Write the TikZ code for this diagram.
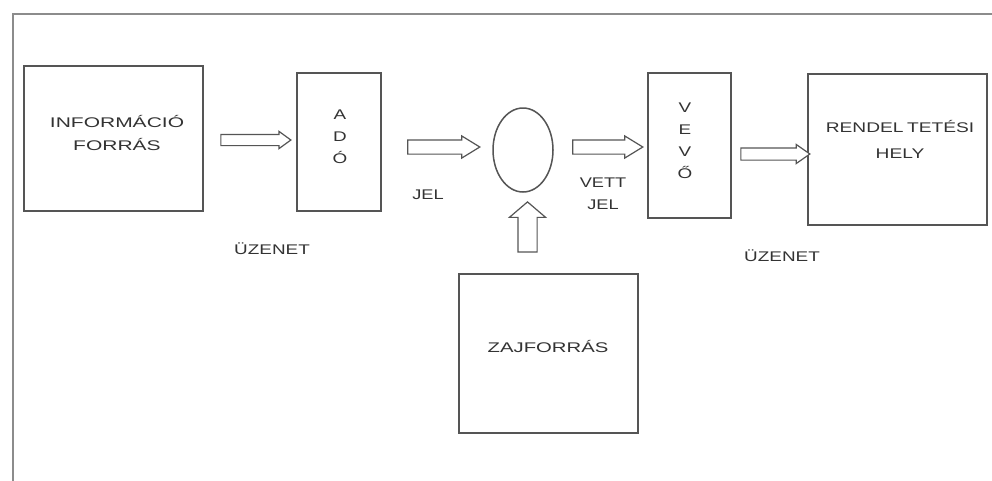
\documentclass[tikz,border=0pt]{standalone}
\usepackage{fontspec}
\setmainfont{Liberation Sans}
\usepackage{graphicx}
\usetikzlibrary{shapes.geometric,shapes.arrows}
\definecolor{boxc}{HTML}{555555}
\definecolor{framec}{HTML}{8C8C8C}
\definecolor{txtc}{HTML}{333333}
\newcommand{\wt}[3][23]{\scalebox{#2}[1]{\fontsize{14}{#1}\selectfont\begin{tabular}{@{}c@{}}#3\end{tabular}}}
\begin{document}
\begin{tikzpicture}[x=1pt,y=-1pt,
  box/.style={draw=boxc,line width=1.5pt,inner sep=0pt,rectangle},
  lbl/.style={text=txtc,inner sep=0pt},
  harrow/.style={single arrow,draw=boxc,line width=1.2pt,fill=white,single arrow head indent=0pt}]
\useasboundingbox (0,0) rectangle (992,480);
\fill[white] (0,0) rectangle (992,480);
\draw[framec,line width=2.5pt] (13,481) -- (13,14) -- (993,14);
% boxes
\node[box,minimum width=179pt,minimum height=145pt] (info) at (113.5,138.5) {};
\node[lbl] (infot) at (117,134) {\wt{1.5}{INFORMÁCIÓ\\FORRÁS}};
\node[box,minimum width=84pt,minimum height=138pt] (ado) at (339,142) {};
\node[lbl] (adot) at (340,137) {\wt[22]{1.35}{A\\D\\Ó}};
\node[box,minimum width=83pt,minimum height=145pt] (vevo) at (689.5,145.5) {};
\node[lbl] (vevot) at (685,141.5) {\wt[22]{1.35}{V\\E\\V\\Ő}};
\node[box,minimum width=179pt,minimum height=151pt] (rend) at (897.5,149.5) {};
\node[lbl] (rendt) at (900,140) {\wt[26]{1.37}{RENDEL\hspace{2.5pt}TETÉSI\\HELY}};
\node[box,minimum width=179pt,minimum height=159pt] (zaj) at (548.5,353.5) {};
\node[lbl] (zajt) at (548,348) {\wt{1.45}{ZAJFORRÁS}};
\node[ellipse,draw=boxc,line width=1.5pt,minimum width=60pt,minimum height=84pt,inner sep=0pt] (ch) at (523,150) {};
% labels
\node[lbl] (uz1) at (272,250) {\wt{1.35}{ÜZENET}};
\node[lbl] (jel) at (428,195) {\wt{1.3}{JEL}};
\node[lbl] (vjel) at (603,194) {\wt[22]{1.3}{VETT\\JEL}};
\node[lbl] (uz2) at (782,257) {\wt{1.35}{ÜZENET}};
% block arrows
\node[harrow,inner sep=5pt,minimum height=70pt,single arrow head extend=3pt,single arrow tip angle=72] (a1) at (252,140) {};
\node[harrow,inner sep=6.5pt,minimum height=72pt,single arrow head extend=4pt,single arrow tip angle=63] (a2) at (438,147) {};
\node[harrow,inner sep=6.5pt,minimum height=70pt,single arrow head extend=4pt,single arrow tip angle=63] (a3) at (602,147) {};
\node[harrow,inner sep=5.5pt,minimum height=69pt,single arrow head extend=3.5pt,single arrow tip angle=70] (a4) at (771,154) {};
\node[harrow,shape border rotate=90,inner sep=9pt,minimum height=50pt,single arrow head extend=8.5pt,single arrow tip angle=99] (a5) at (527.5,231) {};
\end{tikzpicture}
\end{document}
